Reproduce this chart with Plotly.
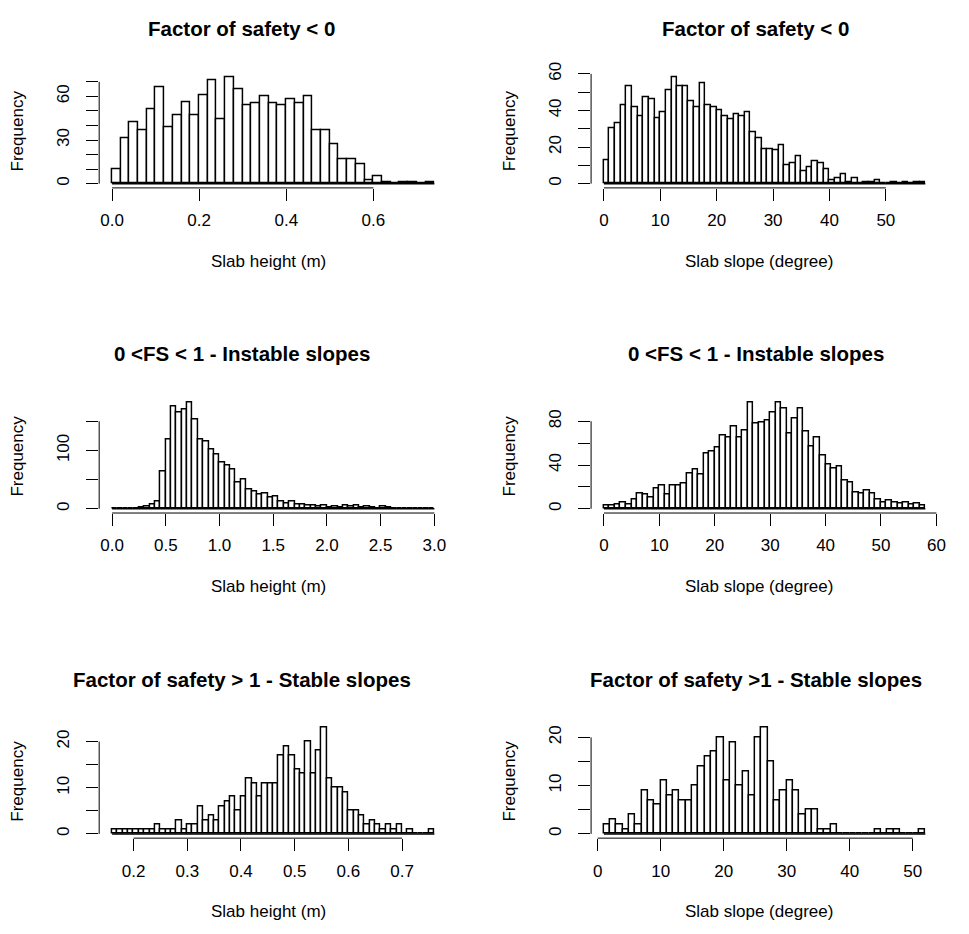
import plotly.graph_objects as go

W, H = 969, 934
FONT = "Liberation Sans, Arial, sans-serif"

# ---------------- histogram data (bin start, bin width, counts) ----------------
# Factor of safety < 0
neg_height_start, neg_height_step = 0.0, 0.02
neg_height_counts = [10, 31, 42, 37, 51, 66, 39, 47, 56, 47, 61, 71, 44, 73, 65, 54, 55, 60, 55,
                     54, 58, 55, 60, 37, 37, 27, 17, 17, 13, 2, 5, 1, 0, 1, 1, 0, 1]
neg_slope_start, neg_slope_step = 0, 1
neg_slope_counts = [13, 30, 33, 43, 53, 42, 37, 47, 46, 36, 39, 51, 58, 53, 53, 45, 42, 55, 43,
                    42, 40, 37, 35, 38, 37, 39, 28, 25, 19, 19, 18, 21, 10, 11, 15, 7, 9, 12, 11,
                    8, 2, 3, 5, 1, 3, 0, 1, 1, 2, 0, 0, 1, 0, 1, 0, 1, 1]

# 0 < FS < 1
uns_height_start, uns_height_step = 0.0, 0.05
uns_height_counts = [0, 0, 0, 1, 1, 2, 4, 7, 13, 64, 119, 176, 166, 170, 182, 154, 119, 116, 101,
                     94, 79, 74, 67, 45, 50, 33, 30, 24, 26, 20, 21, 12, 9, 13, 8, 7, 5, 6, 4, 5,
                     3, 4, 3, 5, 4, 6, 3, 4, 2, 1, 4, 2, 1, 1, 0, 1, 1, 1, 0, 1]
uns_slope_start, uns_slope_step = 0, 1
uns_slope_counts = [3, 3, 4, 6, 4, 9, 14, 13, 10, 19, 21, 13, 21, 21, 23, 32, 36, 31, 51, 52, 56,
                    67, 65, 75, 65, 72, 97, 78, 79, 81, 88, 97, 92, 69, 83, 92, 71, 57, 65, 49,
                    41, 37, 39, 26, 24, 15, 14, 17, 14, 9, 6, 8, 6, 5, 6, 4, 5, 3]

# Factor of safety > 1
sta_height_start, sta_height_step = 0.16, 0.01
sta_height_counts = [1, 1, 1, 1, 1, 1, 1, 1, 2, 1, 1, 1, 3, 1, 2, 2, 6, 3, 4, 3, 6, 7, 8, 5, 8,
                     12, 11, 8, 11, 11, 11, 17, 19, 17, 14, 13, 20, 13, 18, 23, 12, 10, 10, 9, 5,
                     5, 4, 2, 3, 2, 1, 2, 1, 2, 0, 1, 0, 0, 0, 1]
sta_slope_start, sta_slope_step = 1, 1
sta_slope_counts = [2, 3, 2, 1, 4, 2, 9, 7, 6, 11, 8, 9, 7, 7, 10, 14, 16, 17, 20, 11, 19, 10,
                    13, 8, 20, 22, 15, 7, 9, 11, 9, 4, 5, 5, 1, 1, 2, 0, 0, 0, 0, 0, 0, 1, 0,
                    1, 1, 0, 0, 0, 1]

# ---------------- axes ticks / labels ----------------
neg_height_xticks = [0.0, 0.2, 0.4, 0.6]
neg_height_xlabels = ["0.0", "0.2", "0.4", "0.6"]
neg_height_yticks = [0, 10, 20, 30, 40, 50, 60, 70]
neg_height_ylabels = ["0", "", "", "30", "", "", "60", ""]

neg_slope_xticks = [0, 10, 20, 30, 40, 50]
neg_slope_xlabels = ["0", "10", "20", "30", "40", "50"]
neg_slope_yticks = [0, 10, 20, 30, 40, 50, 60]
neg_slope_ylabels = ["0", "", "20", "", "40", "", "60"]

uns_height_xticks = [0.0, 0.5, 1.0, 1.5, 2.0, 2.5, 3.0]
uns_height_xlabels = ["0.0", "0.5", "1.0", "1.5", "2.0", "2.5", "3.0"]
uns_height_yticks = [0, 50, 100, 150]
uns_height_ylabels = ["0", "", "100", ""]

uns_slope_xticks = [0, 10, 20, 30, 40, 50, 60]
uns_slope_xlabels = ["0", "10", "20", "30", "40", "50", "60"]
uns_slope_yticks = [0, 20, 40, 60, 80]
uns_slope_ylabels = ["0", "", "40", "", "80"]

sta_height_xticks = [0.2, 0.3, 0.4, 0.5, 0.6, 0.7]
sta_height_xlabels = ["0.2", "0.3", "0.4", "0.5", "0.6", "0.7"]
sta_height_yticks = [0, 5, 10, 15, 20]
sta_height_ylabels = ["0", "", "10", "", "20"]

sta_slope_xticks = [0, 10, 20, 30, 40, 50]
sta_slope_xlabels = ["0", "10", "20", "30", "40", "50"]
sta_slope_yticks = [0, 5, 10, 15, 20]
sta_slope_ylabels = ["0", "", "10", "", "20"]

titles = ["Factor of safety < 0", "Factor of safety < 0",
          "0 <FS < 1 - Instable slopes", "0 <FS < 1 - Instable slopes",
          "Factor of safety > 1 - Stable slopes", "Factor of safety >1 - Stable slopes"]
xtitles = ["Slab height (m)", "Slab slope (degree)"] * 3
ytitle = "Frequency"

panels = [
    (neg_height_start, neg_height_step, neg_height_counts, neg_height_xticks, neg_height_xlabels,
     neg_height_yticks, neg_height_ylabels),
    (neg_slope_start, neg_slope_step, neg_slope_counts, neg_slope_xticks, neg_slope_xlabels,
     neg_slope_yticks, neg_slope_ylabels),
    (uns_height_start, uns_height_step, uns_height_counts, uns_height_xticks, uns_height_xlabels,
     uns_height_yticks, uns_height_ylabels),
    (uns_slope_start, uns_slope_step, uns_slope_counts, uns_slope_xticks, uns_slope_xlabels,
     uns_slope_yticks, uns_slope_ylabels),
    (sta_height_start, sta_height_step, sta_height_counts, sta_height_xticks, sta_height_xlabels,
     sta_height_yticks, sta_height_ylabels),
    (sta_slope_start, sta_slope_step, sta_slope_counts, sta_slope_xticks, sta_slope_xlabels,
     sta_slope_yticks, sta_slope_ylabels),
]

# ---------------- layout geometry (pixels) ----------------
COL_X = [(100, 451), (596, 946)]
ROW_TOP = [63, 392, 721]
ROW_BOT = [179, 508, 837]
TITLE_GAP = 45        # title centre above plotting region
XLAB_GAP = 74         # x-axis title centre below plotting region
YLAB_GAP = 82         # y-axis title centre left of plotting region
TITLE_CX = [244, 762]
XLAB_CX = [271, 765]
AX_FONT = 17
TITLE_FONT = 20.5
TICKLEN = 12


def px_x(v):
    return v / W


def px_y(v):
    return 1 - v / H


fig = go.Figure()
annotations = []
shapes = []

for i, (start, step, counts, xt, xl, yt, yl) in enumerate(panels):
    r, c = divmod(i, 2)
    x0, x1 = COL_X[c]
    top, bot = ROW_TOP[r], ROW_BOT[r]
    n = len(counts)
    edges = [start + k * step for k in range(n + 1)]
    centers = [(edges[k] + edges[k + 1]) / 2 for k in range(n)]
    xa = "x" if i == 0 else f"x{i + 1}"
    ya = "y" if i == 0 else f"y{i + 1}"
    xkey = "xaxis" if i == 0 else f"xaxis{i + 1}"
    ykey = "yaxis" if i == 0 else f"yaxis{i + 1}"

    fig.add_trace(go.Bar(
        x=centers, y=counts, width=step, xaxis=xa, yaxis=ya,
        marker=dict(color="white", line=dict(color="black", width=1.5)),
        showlegend=False, hoverinfo="x+y"))

    # R-style axis extents: 4% padding around data ranges
    xr = edges[-1] - edges[0]
    ymax = max(counts)
    fig.update_layout({
        xkey: dict(domain=[px_x(x0), px_x(x1)], anchor=ya,
                   range=[edges[0] - 0.04 * xr, edges[-1] + 0.04 * xr],
                   tickvals=xt, ticktext=xl, ticks="outside", ticklen=TICKLEN, tickwidth=1,
                   tickcolor="black", showline=False, showgrid=False, zeroline=False,
                   ticklabelstandoff=5,
                   tickfont=dict(family=FONT, size=AX_FONT, color="black")),
        ykey: dict(domain=[px_y(bot), px_y(top)], anchor=xa,
                   range=[-0.04 * ymax, 1.04 * ymax],
                   tickvals=yt, ticktext=yl, ticks="outside", ticklen=TICKLEN, tickwidth=1,
                   tickcolor="black", showline=False, showgrid=False, zeroline=False,
                   tickangle=-90, ticklabelstandoff=10,
                   tickfont=dict(family=FONT, size=AX_FONT, color="black")),
    })

    # axis lines spanning the tick range only
    shapes.append(dict(type="line", xref=xa, yref=f"{ya} domain", x0=xt[0], x1=xt[-1],
                       y0=0, y1=0, line=dict(color="black", width=1)))
    shapes.append(dict(type="line", xref=f"{xa} domain", yref=ya, x0=0, x1=0,
                       y0=yt[0], y1=yt[-1], line=dict(color="black", width=1)))
    # empty bins still show as a flat outline along the baseline
    shapes.append(dict(type="line", xref=xa, yref=ya, x0=edges[0], x1=edges[-1],
                       y0=0, y1=0, line=dict(color="black", width=1.5), layer="above"))

    annotations.append(dict(text=f"<b>{titles[i]}</b>", x=px_x(TITLE_CX[c]),
                            y=px_y(top - TITLE_GAP), xref="paper", yref="paper",
                            showarrow=False, xanchor="center", yanchor="middle",
                            font=dict(family=FONT, size=TITLE_FONT, color="black")))
    annotations.append(dict(text=xtitles[i], x=px_x(XLAB_CX[c]), y=px_y(bot + XLAB_GAP),
                            xref="paper", yref="paper", showarrow=False,
                            xanchor="center", yanchor="middle",
                            font=dict(family=FONT, size=AX_FONT, color="black")))
    annotations.append(dict(text=ytitle, x=px_x(x0 - YLAB_GAP), y=px_y((top + bot) / 2),
                            xref="paper", yref="paper", showarrow=False, textangle=-90,
                            xanchor="center", yanchor="middle",
                            font=dict(family=FONT, size=AX_FONT, color="black")))

fig.update_layout(width=W, height=H, margin=dict(l=0, r=0, t=0, b=0),
                  paper_bgcolor="white", plot_bgcolor="white", bargap=0,
                  annotations=annotations, shapes=shapes)

fig.write_html("out.html")
